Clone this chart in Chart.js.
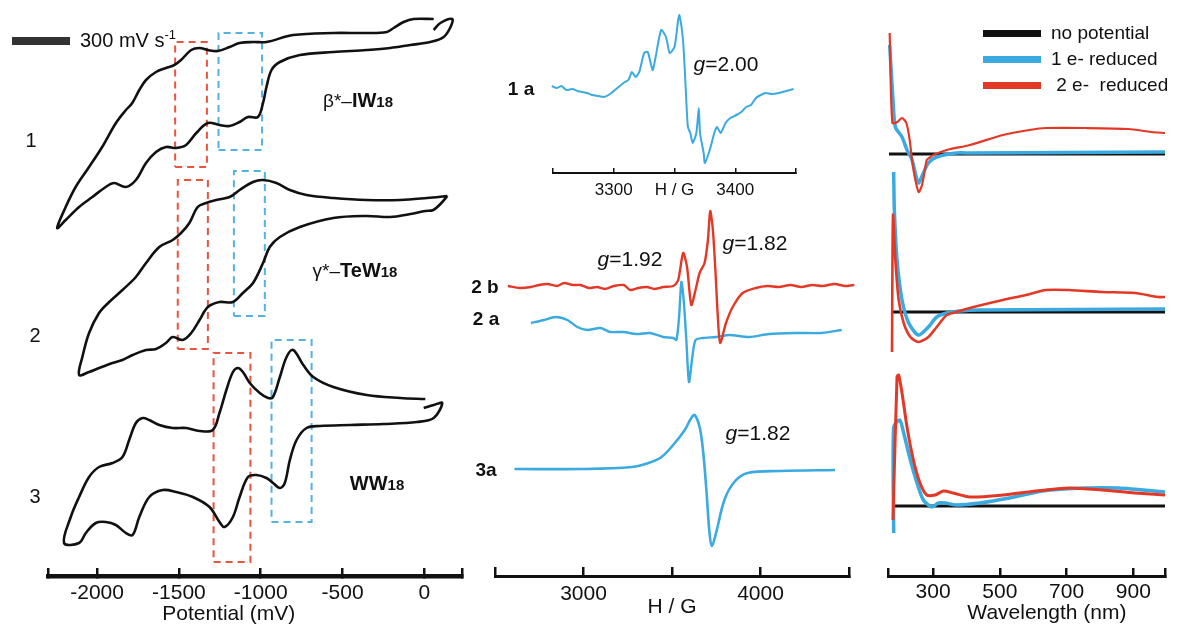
<!DOCTYPE html>
<html>
<head>
<meta charset="utf-8">
<title>CV, EPR and UV-vis of the W18 clusters</title>
<script src="https://cdn.jsdelivr.net/npm/chart.js@4.4.1/dist/chart.umd.min.js"></script>
<style>
    html, body { margin: 0; padding: 0; background: #fff; }
    #figure {
        position: relative; width: 1177px; height: 627px; overflow: hidden;
        font-family: "Liberation Sans", Arial, sans-serif; color: #111;
    }
    #figure canvas { position: absolute; top: 0; }
    .txt { position: absolute; transform: translate(-50%, -50%); white-space: pre; line-height: 1; }
    .num { font-size: 20px; }
    .name { font-size: 19px; }
    .name b { font-size: 20px; }
    .name small { font-size: 15px; font-weight: bold; }
    .tag { font-size: 19px; font-weight: bold; }
    .g { font-size: 21px; }
    #scale-bar { position: absolute; left: 12px; top: 37px; width: 58px; height: 8px; background: #333; }
    #scale-text { position: absolute; left: 80px; top: 30px; font-size: 20px; white-space: pre; line-height: 1; }
    #scale-text sup { font-size: 13px; vertical-align: 8px; line-height: 0; }
    #uv-legend { position: absolute; left: 983px; top: 20px; }
    .leg-row { display: flex; align-items: center; height: 26px; font-size: 19px; white-space: pre; }
    .leg-bar { width: 58px; height: 7px; margin-right: 10px; }
</style>
</head>
<body>
<div id="figure">
    <canvas id="cv" width="480" height="627" style="left:0"></canvas>
    <canvas id="epr" width="390" height="627" style="left:480px"></canvas>
    <canvas id="inset" width="270" height="215" style="left:540px"></canvas>
    <canvas id="uv" width="307" height="627" style="left:870px"></canvas>

    <div id="scale-bar"></div>
    <div id="scale-text">300 mV s<sup>-1</sup></div>
    <div class="txt num" style="left:31px;top:140px">1</div>
    <div class="txt num" style="left:35px;top:335px">2</div>
    <div class="txt num" style="left:35px;top:496px">3</div>
    <div class="txt name" style="left:358px;top:100px">β*–<b>IW</b><small>18</small></div>
    <div class="txt name" style="left:355px;top:270px">γ*–<b>TeW</b><small>18</small></div>
    <div class="txt name" style="left:377px;top:483px"><b>WW</b><small>18</small></div>

    <div class="txt tag" style="left:521px;top:88px">1 a</div>
    <div class="txt tag" style="left:485px;top:286px">2 b</div>
    <div class="txt tag" style="left:486px;top:318px">2 a</div>
    <div class="txt tag" style="left:486px;top:469px">3a</div>
    <div class="txt g" style="left:726px;top:63px"><i>g</i>=2.00</div>
    <div class="txt g" style="left:630px;top:258px"><i>g</i>=1.92</div>
    <div class="txt g" style="left:755px;top:242px"><i>g</i>=1.82</div>
    <div class="txt g" style="left:758px;top:432px"><i>g</i>=1.82</div>

    <div id="uv-legend"></div>
</div>

<script>
const FONT = '"Liberation Sans", Arial, sans-serif';
const INK = '#111';
const RED = 'rgb(228, 56, 38)';
const BLUE = 'rgb(58, 170, 224)';
const BOX_RED = 'rgb(232, 84, 62)';
const BOX_BLUE = 'rgb(82, 178, 226)';

// ---- Cyclic voltammograms (potential in mV, current in a.u., stacked) ----
const cv1Potential = [
    57, -66, -127, -188, -229, -352, -556, -802, -965, -1047,
    -1129, -1190, -1262, -1323, -1374, -1425, -1487, -1528, -1579, -1640,
    -1701, -1742, -1785, -1824, -1885, -1969, -2049, -2131, -2192, -2244,
    -2192, -2110, -2029, -1947, -1896, -1824, -1763, -1701, -1640, -1579,
    -1517, -1456, -1394, -1323, -1252, -1190, -1129, -1078, -1017, -986,
    -965, -934, -883, -761, -556, -352, -209, -86, 37, 118,
    160, 170, 98, 57
];
const cv1Current = [
    557, 557, 554, 548, 544, 543, 543, 541, 534, 534,
    533, 529, 525, 526, 528, 526, 516, 511, 508, 504,
    496, 486, 473, 466, 453, 429, 409, 389, 369, 348,
    356, 369, 379, 389, 393, 389, 396, 413, 424, 429,
    428, 431, 443, 453, 451, 450, 454, 459, 459, 473,
    489, 506, 514, 521, 524, 526, 528, 531, 534, 539,
    549, 557, 553, 546
];

const cv2Potential = [
    141, 17, -147, -352, -556, -720, -822, -904, -986, -1047,
    -1129, -1190, -1272, -1333, -1385, -1436, -1487, -1538, -1620, -1701,
    -1763, -1845, -1926, -1988, -2049, -2090, -2110,
    -2049, -1988, -1906, -1845, -1783, -1701, -1640, -1579, -1538, -1477,
    -1425, -1374, -1323, -1252, -1170, -1109, -1047, -986, -945, -883,
    -761, -556, -352, -209, -86, 6, 55, 104, 141
];
const cv2Current = [
    380, 378, 376, 376, 378, 381, 386, 393, 396, 394,
    386, 379, 376, 373, 369, 353, 343, 336, 329, 313,
    299, 286, 274, 263, 243, 219, 201,
    204, 208, 213, 216, 221, 226, 227, 233, 239, 236,
    243, 256, 269, 274, 274, 283, 293, 313, 329, 339,
    349, 358, 360, 359, 362, 365, 366, 373, 380
];

const cv3Potential = [
    6, -147, -352, -556, -679, -740, -802, -842, -883, -925,
    -955, -1006, -1067, -1109, -1139, -1170, -1210, -1252, -1293, -1374,
    -1456, -1538, -1620, -1681, -1722, -1763, -1804, -1845, -1906, -1988,
    -2049, -2110, -2161, -2202,
    -2110, -2069, -2008, -1947, -1885, -1824, -1783, -1742, -1681, -1599,
    -1517, -1415, -1313, -1252, -1221, -1170, -1129, -1078, -1026, -965,
    -925, -883, -853, -822, -781, -720, -638, -454, -250, -45,
    57, 109, 57, -4
];
const cv3Current = [
    177, 178, 181, 189, 199, 211, 226, 219, 199, 179,
    178, 183, 193, 204, 208, 204, 186, 163, 146, 145,
    148, 148, 151, 156, 158, 153, 136, 119, 113, 109,
    99, 79, 59, 33,
    33, 43, 53, 54, 51, 43, 41, 59, 79, 86,
    84, 79, 69, 54, 49, 59, 79, 99, 101, 98,
    93, 88, 93, 116, 136, 148, 150, 151, 152, 154,
    158, 173, 171, 168
];

// highlighted redox windows: [from, to] potential and [low, high] current
const redWindowPotential = [[-1523, -1329], [-1507, -1323], [-1288, -1063]];
const redWindowCurrent = [[409, 534], [227, 396], [14, 223]];
const blueWindowPotential = [[-1258, -992], [-1164, -975], [-934, -689]];
const blueWindowCurrent = [[426, 543], [260, 405], [54, 236]];

const cvTicks = [-2300, -2000, -1500, -1000, -500, 0, 230];
const cvTickLabels = ['', '-2000', '-1500', '-1000', '-500', '0', ''];

// ---- EPR spectra (field in G, signal in a.u., stacked) ----
const epr1aField = [
    3249, 3253, 3257, 3261, 3266, 3270, 3274, 3278, 3282, 3287,
    3292, 3297, 3300, 3303, 3308, 3312, 3315, 3318, 3321, 3325,
    3328, 3332, 3334, 3339, 3343, 3346, 3350, 3353, 3354, 3357,
    3359, 3361, 3363, 3365, 3368, 3370, 3371, 3374, 3375, 3379,
    3383, 3385, 3388, 3392, 3396, 3401, 3405, 3409, 3413, 3417,
    3421, 3425, 3430, 3436, 3442, 3448
];
const epr1aSignal = [
    87, 85, 87, 83, 84, 82, 81, 80, 78, 77,
    76, 79, 82, 85, 90, 93, 101, 96, 101, 120,
    121, 103, 113, 143, 136, 120, 126, 153, 158, 133,
    90, 46, 40, 30, 40, 65, 40, 20, 10, 23,
    41, 46, 40, 50, 55, 58, 61, 66, 68, 75,
    78, 80, 79, 80, 82, 84
];
const epr2bField = [
    2573, 2640, 2703, 2750, 2797, 2850, 2890, 2940, 2983, 3030,
    3077, 3120, 3171, 3227, 3264, 3310, 3357, 3400, 3451, 3507,
    3535, 3563, 3585, 3609, 3633, 3656, 3684, 3703, 3716, 3731,
    3746, 3759, 3772, 3805, 3843, 3899, 3973, 4040, 4104, 4170,
    4230, 4291, 4350, 4420, 4478, 4530, 4571
];
const epr2bSignal = [
    290, 288, 289, 291, 292, 290, 293, 291, 291, 288,
    289, 287, 290, 291, 286, 288, 289, 287, 289, 290,
    296, 323, 309, 271, 286, 303, 313, 336, 365, 346,
    303, 259, 233, 253, 269, 283, 288, 290, 289, 291,
    289, 291, 290, 292, 290, 291, 290
];
const epr2aField = [
    2703, 2778, 2843, 2909, 2965, 3021, 3095, 3152, 3227, 3301,
    3376, 3451, 3507, 3525, 3540, 3553, 3566, 3581, 3596, 3615,
    3633, 3675, 3749, 3824, 3936, 4048, 4197, 4347, 4459
];
const epr2aSignal = [
    253, 256, 259, 256, 249, 246, 248, 244, 244, 242,
    243, 239, 238, 236, 259, 294, 276, 236, 194, 219,
    236, 238, 239, 241, 239, 242, 243, 243, 246
];
const epr3aField = [
    2610, 2993, 3273, 3367, 3441, 3516, 3572, 3609, 3628, 3656,
    3675, 3693, 3712, 3725, 3749, 3796, 3852, 3927, 4113, 4421
];
const epr3aSignal = [
    107, 107, 109, 113, 119, 133, 146, 158, 161, 149,
    126, 89, 43, 30, 43, 76, 94, 103, 105, 106
];

const eprTicks = [2500, 3000, 3500, 4000, 4500];
const eprTickLabels = ['', '3000', '', '4000', ''];
const insetTicks = [3250, 3300, 3350, 3400, 3450];
const insetTickLabels = ['', '3300', 'H / G', '3400', ''];

// ---- UV-vis difference spectra (wavelength in nm, absorbance in a.u., stacked) ----
const uvTopRedNm = [170, 178, 193, 207, 220, 230, 237, 247, 257, 267, 281, 288, 301, 341, 410, 509, 588, 638, 756, 885, 954, 995];
const uvTopRedAbs = [543, 453, 454, 458, 453, 436, 416, 396, 384, 391, 416, 418, 421, 426, 431, 441, 446, 448, 448, 447, 444, 443];
const uvTopBlueNm = [170, 180, 187, 207, 222, 237, 252, 257, 271, 286, 311, 370, 410, 995];
const uvTopBlueAbs = [531, 476, 449, 439, 426, 416, 396, 393, 403, 413, 419, 423, 423, 424];
const uvTopBaseNm = [168, 995];
const uvTopBaseAbs = [422, 422];

const uvMidRedNm = [177, 180, 187, 197, 212, 232, 256, 286, 311, 341, 370, 410, 509, 578, 638, 707, 806, 905, 974, 995];
const uvMidRedAbs = [224, 361, 316, 276, 253, 239, 234, 239, 249, 261, 264, 268, 276, 281, 286, 286, 284, 283, 279, 279];
const uvMidBlueNm = [182, 184, 192, 207, 227, 256, 286, 311, 341, 380, 440, 995];
const uvMidBlueAbs = [404, 366, 316, 276, 253, 241, 249, 259, 263, 265, 266, 267];
const uvMidBaseNm = [180, 995];
const uvMidBaseAbs = [264, 264];

const uvBotRedNm = [180, 192, 197, 207, 222, 241, 261, 281, 306, 331, 360, 410, 509, 608, 707, 806, 905, 995];
const uvBotRedAbs = [56, 199, 201, 183, 149, 116, 93, 81, 81, 85, 83, 79, 81, 85, 88, 86, 83, 81];
const uvBotBlueNm = [182, 182, 200, 212, 232, 252, 271, 296, 316, 336, 370, 440, 529, 628, 757, 856, 995];
const uvBotBlueAbs = [43, 149, 156, 143, 116, 93, 76, 69, 73, 73, 71, 73, 78, 85, 88, 88, 84];
const uvBotBaseNm = [184, 995];
const uvBotBaseAbs = [70, 70];

const uvTicks = [165, 300, 500, 700, 900, 995];
const uvTickLabels = ['', '300', '500', '700', '900', ''];

/**
 * Helpers
 */
function zip(xs, ys) {
    return xs.map((x, i) => ({ x, y: ys[i] }));
}

function trace(label, xs, ys, color, width, extra) {
    return Object.assign({
        label,
        data: zip(xs, ys),
        showLine: true,
        borderColor: color,
        backgroundColor: color,
        borderWidth: width,
        pointRadius: 0,
        tension: 0.3,
        fill: false,
        clip: false,
    }, extra || {});
}

// dashed rectangle through its four corners
function windowBox(xr, yr, color) {
    const xs = [xr[0], xr[1], xr[1], xr[0], xr[0]];
    const ys = [yr[0], yr[0], yr[1], yr[1], yr[0]];
    return trace('', xs, ys, color, 2, { tension: 0, borderDash: [7, 5] });
}

function makePanel(id, datasets, axis) {
    return new Chart(document.getElementById(id), {
        type: 'scatter',
        data: { datasets },
        options: {
            animation: false,
            responsive: false,
            devicePixelRatio: 1,
            layout: { padding: { left: axis.padLeft, right: axis.padRight, top: 0, bottom: 0 } },
            plugins: { legend: { display: false }, tooltip: { enabled: false } },
            scales: {
                x: {
                    type: 'linear',
                    min: axis.ticks[0],
                    max: axis.ticks[axis.ticks.length - 1],
                    afterBuildTicks: s => { s.ticks = axis.ticks.map(v => ({ value: v })); },
                    afterFit: s => { s.height = axis.height; },
                    border: { color: INK, width: axis.lineWidth },
                    grid: {
                        drawOnChartArea: false,
                        tickLength: -axis.tickLength,
                        color: INK, tickColor: INK,
                        lineWidth: axis.tickWidth, tickWidth: axis.tickWidth,
                    },
                    ticks: {
                        autoSkip: false, maxRotation: 0, color: INK,
                        padding: axis.labelPad,
                        font: { family: FONT, size: axis.fontSize },
                        callback: (v, i) => axis.labels[i],
                    },
                    title: {
                        display: !!axis.title, text: axis.title, color: INK,
                        font: { family: FONT, size: axis.fontSize },
                        padding: { top: 0, bottom: axis.titlePad },
                    },
                },
                y: { display: false, min: 0, max: axis.yMax },
            },
        },
    });
}

/**
 * Panels
 */
const cvSets = [
    trace('β*-IW18', cv1Potential, cv1Current, INK, 2.6, { tension: 0.35 }),
    trace('γ*-TeW18', cv2Potential, cv2Current, INK, 2.6, { tension: 0.35 }),
    trace('WW18', cv3Potential, cv3Current, INK, 2.6, { tension: 0.35 }),
];
redWindowPotential.forEach((xr, i) => cvSets.push(windowBox(xr, redWindowCurrent[i], BOX_RED)));
blueWindowPotential.forEach((xr, i) => cvSets.push(windowBox(xr, blueWindowCurrent[i], BOX_BLUE)));

makePanel('cv', cvSets, {
    ticks: cvTicks, labels: cvTickLabels, padLeft: 48, padRight: 18,
    height: 51, yMax: 576, lineWidth: 4.5, tickLength: 8, tickWidth: 2.5,
    fontSize: 21, labelPad: 13, title: 'Potential (mV)         ', titlePad: 0,
});

makePanel('epr', [
    trace('2b', epr2bField, epr2bSignal, RED, 2.4, { tension: 0.25 }),
    trace('2a', epr2aField, epr2aSignal, BLUE, 2.4, { tension: 0.25 }),
    trace('3a', epr3aField, epr3aSignal, BLUE, 2.6, { tension: 0.35 }),
], {
    ticks: eprTicks, labels: eprTickLabels, padLeft: 12, padRight: 21,
    height: 51, yMax: 576, lineWidth: 3, tickLength: 9, tickWidth: 2.5,
    fontSize: 21, labelPad: 15, title: 'H / G', titlePad: 7,
});

makePanel('inset', [
    trace('1a', epr1aField, epr1aSignal, BLUE, 2, { tension: 0.2 }),
], {
    ticks: insetTicks, labels: insetTickLabels, padLeft: 13, padRight: 14,
    height: 42, yMax: 173, lineWidth: 2, tickLength: 5, tickWidth: 1.5,
    fontSize: 17, labelPad: 12, title: '', titlePad: 0,
});

const uvChart = makePanel('uv', [
    trace('no potential', uvTopBaseNm, uvTopBaseAbs, INK, 3, { order: 2, tension: 0 }),
    trace('1 e- reduced', uvTopBlueNm, uvTopBlueAbs, BLUE, 3.5, { order: 1, tension: 0.25 }),
    trace(' 2 e-  reduced', uvTopRedNm, uvTopRedAbs, RED, 2.2, { order: 0, tension: 0.25 }),
    trace('', uvMidBaseNm, uvMidBaseAbs, INK, 3, { order: 2, tension: 0 }),
    trace('', uvMidBlueNm, uvMidBlueAbs, BLUE, 3.5, { order: 1, tension: 0.25 }),
    trace('', uvMidRedNm, uvMidRedAbs, RED, 2.6, { order: 0, tension: 0.25 }),
    trace('', uvBotBaseNm, uvBotBaseAbs, INK, 3, { order: 2, tension: 0 }),
    trace('', uvBotBlueNm, uvBotBlueAbs, BLUE, 3.5, { order: 1, tension: 0.25 }),
    trace('', uvBotRedNm, uvBotRedAbs, RED, 3, { order: 0, tension: 0.25 }),
], {
    ticks: uvTicks, labels: uvTickLabels, padLeft: 18, padRight: 10,
    height: 51, yMax: 576, lineWidth: 3, tickLength: 8, tickWidth: 2.5,
    fontSize: 21, labelPad: 12, title: '       Wavelength (nm)', titlePad: 1,
});

// legend for the UV panel, built from its labelled datasets
const legend = document.getElementById('uv-legend');
legend.innerHTML = uvChart.data.datasets
    .filter(d => d.label)
    .map(d => `<div class="leg-row"><span class="leg-bar" style="background:${d.borderColor}"></span>${d.label}</div>`)
    .join('');
</script>
</body>
</html>
